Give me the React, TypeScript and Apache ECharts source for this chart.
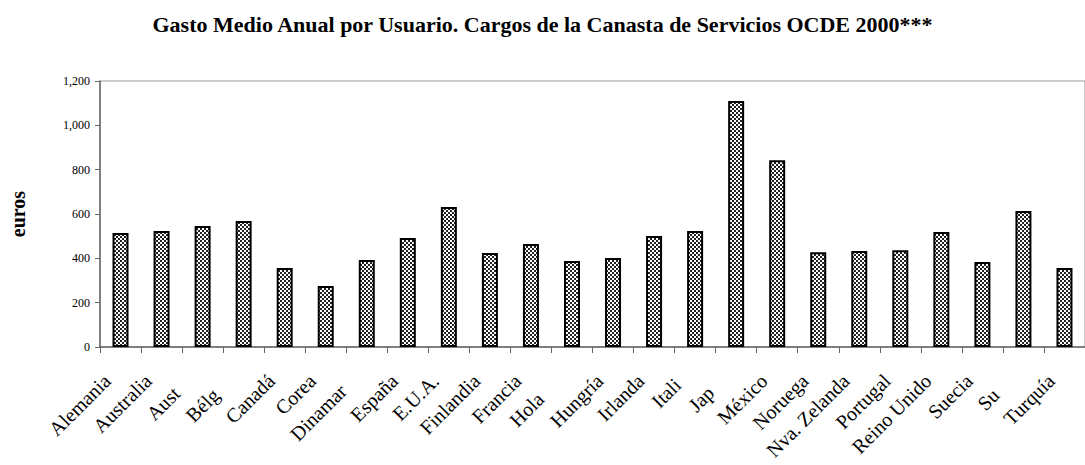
import React, { useEffect, useRef } from "react";
import * as echarts from "echarts";

const categories = [
  "Alemania", "Australia", "Austria", "Bélgica", "Canadá", "Corea", "Dinamarca", "España",
  "E.U.A.", "Finlandia", "Francia", "Holanda", "Hungría", "Irlanda", "Italia", "Japón",
  "México", "Noruega", "Nva. Zelanda", "Portugal", "Reino Unido", "Suecia", "Suiza", "Turquía",
];
// labels as they appear (some are clipped in the original)
const tickLabels = [
  "Alemania", "Australia", "Aust", "Bélg", "Canadá", "Corea", "Dinamar", "España",
  "E.U.A.", "Finlandia", "Francia", "Hola", "Hungría", "Irlanda", "Itali", "Jap",
  "México", "Noruega", "Nva. Zelanda", "Portugal", "Reino Unido", "Suecia", "Su", "Turquía",
];
const values = [
  514, 523, 546, 568, 356, 275, 392, 492,
  632, 424, 465, 388, 401, 501, 523, 1110,
  843, 428, 433, 437, 519, 383, 613, 356,
];
const yTicks = [0, 200, 400, 600, 800, 1000, 1200];

const FONT = "Liberation Serif, Times New Roman, serif";
const LABEL_SIZE = 20;

function makePattern(): string {
  const c = document.createElement("canvas");
  c.width = 4;
  c.height = 4;
  const ctx = c.getContext("2d")!;
  ctx.fillStyle = "#ffffff";
  ctx.fillRect(0, 0, 4, 4);
  ctx.fillStyle = "#222222";
  ctx.fillRect(0, 0, 2, 2);
  ctx.fillRect(2, 2, 2, 2);
  return c.toDataURL();
}

export default function App() {
  const ref = useRef<HTMLDivElement>(null);
  useEffect(() => {
    document.body.style.margin = "0";
    const chart = echarts.init(ref.current!, undefined, { renderer: "svg" });
    const pattern = makePattern();

    const mc = document.createElement("canvas").getContext("2d")!;
    mc.font = `${LABEL_SIZE}px "Liberation Serif"`;
    const baseGap = 19;
    const rich: Record<string, any> = {
      t: { fontFamily: FONT, fontSize: LABEL_SIZE, color: "#000" },
    };
    categories.forEach((full, i) => {
      const vis = tickLabels[i];
      let extra = 0;
      if (vis !== full) {
        extra = Math.max(0, mc.measureText(full).width - mc.measureText(vis).width - 3);
      }
      rich["g" + i] = { width: baseGap + extra, fontSize: LABEL_SIZE };
    });

    chart.setOption({
      animation: false,
      backgroundColor: "#ffffff",
      title: {
        text: "Gasto Medio Anual por Usuario. Cargos de la Canasta de Servicios OCDE 2000***",
        left: "center",
        top: 8,
        textStyle: { fontFamily: FONT, fontSize: 22, fontWeight: "bold", color: "#000" },
      },
      grid: {
        left: 100,
        top: 81,
        width: 987,
        height: 266,
        show: true,
        borderColor: "#999",
        borderWidth: 1,
        backgroundColor: "transparent",
      },
      xAxis: {
        type: "category",
        data: categories,
        axisLine: { show: true, lineStyle: { color: "#666", width: 1.5 } },
        axisTick: { show: true, length: 6, lineStyle: { color: "#666" } },
        axisLabel: {
          interval: 0,
          rotate: 45,
          margin: 17,
          fontFamily: FONT,
          fontSize: LABEL_SIZE,
          color: "#000",
          rich,
          formatter: (_v: string, i: number) => `{t|${tickLabels[i]}}{g${i}| }`,
        },
      },
      yAxis: {
        type: "value",
        min: 0,
        max: 1200,
        interval: 200,
        name: "euros",
        nameLocation: "middle",
        nameGap: 72,
        nameTextStyle: { fontFamily: FONT, fontSize: 20, fontWeight: "bold", color: "#000" },
        axisLine: { show: true, lineStyle: { color: "#666", width: 1.5 } },
        axisTick: { show: true, length: 5, lineStyle: { color: "#666" } },
        splitLine: { show: false },
        axisLabel: {
          margin: 10,
          fontFamily: FONT,
          fontSize: 12,
          color: "#000",
          formatter: (v: number) => (yTicks.includes(v) ? v.toLocaleString("en-US") : ""),
        },
      },
      series: [
        {
          type: "bar",
          data: values,
          barWidth: 16,
          itemStyle: {
            color: { image: pattern, repeat: "repeat" },
            borderColor: "#000",
            borderWidth: 2,
          },
        },
      ],
    });
    return () => chart.dispose();
  }, []);
  return <div ref={ref} style={{ width: 1085, height: 465 }} />;
}
